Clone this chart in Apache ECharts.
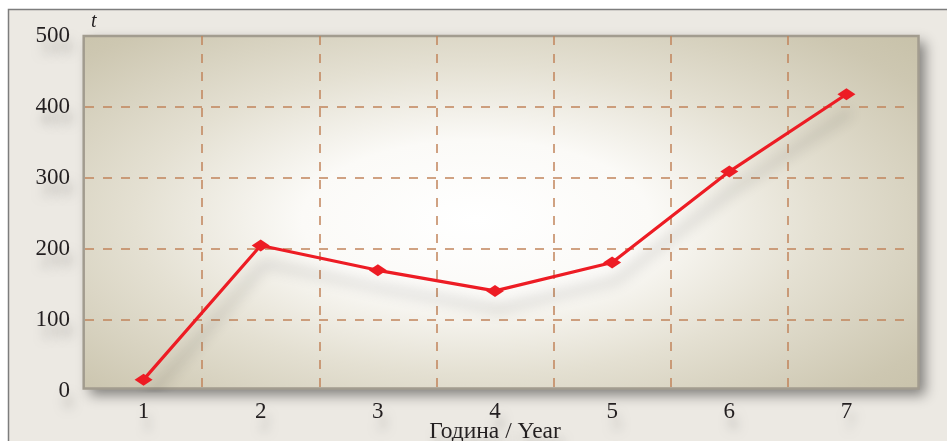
<!DOCTYPE html>
<html>
<head>
<meta charset="utf-8">
<script src="https://cdn.jsdelivr.net/npm/echarts@6/dist/echarts.min.js"></script>
<style>
  html, body { margin: 0; padding: 0; background: #ffffff; }
  #chart { width: 947px; height: 441px; }
</style>
</head>
<body>
<div id="chart"></div>
<script>
// Years on the horizontal axis and tonnage per year
const years = ['1', '2', '3', '4', '5', '6', '7'];
const tonnes = [16, 205, 170, 141, 181, 309, 418];
const yTicks = [0, 100, 200, 300, 400, 500];
const xTitle = 'Година / Year';
const yTitle = 't';

const chart = echarts.init(document.getElementById('chart'));
const serif = '"Liberation Serif", "DejaVu Serif", serif';
const textShadow = {
  textShadowColor: 'rgba(0,0,0,0.22)',
  textShadowBlur: 10,
  textShadowOffsetX: 4,
  textShadowOffsetY: 12
};

// Plot panel geometry (framed area behind the grid)
const panel = { x: 83.7, y: 36, w: 834.8, h: 352.5 };
const stretch = 2.2;

chart.setOption({
  animation: false,
  backgroundColor: '#ffffff',
  grid: { left: 85, right: 42, top: 36, bottom: 50, containLabel: false, outerBoundsMode: 'none' },
  graphic: [
    {
      type: 'rect', z: -30, silent: true,
      shape: { x: 8.5, y: 9.5, width: 960, height: 460 },
      style: { fill: '#ece9e3', stroke: '#7d7d7d', lineWidth: 1.5 }
    },
    {
      type: 'rect', z: -25, silent: true,
      shape: { x: panel.x, y: panel.y, width: panel.w, height: panel.h },
      style: {
        fill: '#c8c2aa',
        shadowColor: 'rgba(0,0,0,0.45)', shadowBlur: 12,
        shadowOffsetX: 6, shadowOffsetY: 6
      }
    },
    {
      type: 'rect', z: -20, silent: true,
      x: panel.x, y: panel.y, scaleX: stretch, scaleY: 1,
      shape: { x: 0, y: 0, width: panel.w / stretch, height: panel.h },
      style: {
        fill: new echarts.graphic.RadialGradient(0.47, 0.52, 0.8, [
          { offset: 0, color: '#ffffff' },
          { offset: 0.28, color: '#fbfaf7' },
          { offset: 0.55, color: '#e4e0d2' },
          { offset: 0.85, color: '#cdc7b1' },
          { offset: 1, color: '#c6c0a7' }
        ])
      }
    },
    {
      type: 'rect', z: -15, silent: true,
      shape: { x: panel.x, y: panel.y, width: panel.w, height: panel.h },
      style: { fill: 'none', stroke: '#a29c8f', lineWidth: 2.5 }
    }
  ],
  xAxis: {
    type: 'category',
    data: years,
    boundaryGap: true,
    name: xTitle,
    nameLocation: 'middle',
    nameGap: 29,
    nameMoveOverlap: false,
    nameTextStyle: Object.assign({ fontFamily: serif, fontSize: 23.5, color: '#231f20' }, textShadow),
    axisLine: { show: false },
    axisTick: { show: false },
    axisLabel: Object.assign({ fontFamily: serif, fontSize: 23, color: '#231f20', margin: 9 }, textShadow),
    splitLine: {
      show: true, showMinLine: false, showMaxLine: false,
      lineStyle: { color: '#c1845b', width: 1.5, type: [9, 9] }
    }
  },
  yAxis: {
    type: 'value',
    min: yTicks[0],
    max: yTicks[yTicks.length - 1],
    interval: 100,
    name: yTitle,
    nameLocation: 'end',
    nameGap: 4,
    nameMoveOverlap: false,
    nameTextStyle: { fontFamily: serif, fontSize: 20, fontStyle: 'italic', color: '#231f20', align: 'left', padding: [0, 0, 0, 6] },
    axisLine: { show: false },
    axisTick: { show: false },
    axisLabel: Object.assign({ fontFamily: serif, fontSize: 23, color: '#231f20', margin: 15 }, textShadow),
    splitLine: {
      show: true, showMinLine: false, showMaxLine: false,
      lineStyle: { color: '#c1845b', width: 1.5, type: [9, 9] }
    }
  },
  series: [{
    type: 'line',
    data: tonnes,
    symbol: 'diamond',
    symbolSize: [18, 12],
    z: 5,
    lineStyle: {
      color: '#ed1c24', width: 3.2,
      shadowColor: 'rgba(0,0,0,0.3)', shadowBlur: 14,
      shadowOffsetX: 4, shadowOffsetY: 18
    },
    itemStyle: { color: '#ed1c24', borderWidth: 0 }
  }]
});
</script>
</body>
</html>
